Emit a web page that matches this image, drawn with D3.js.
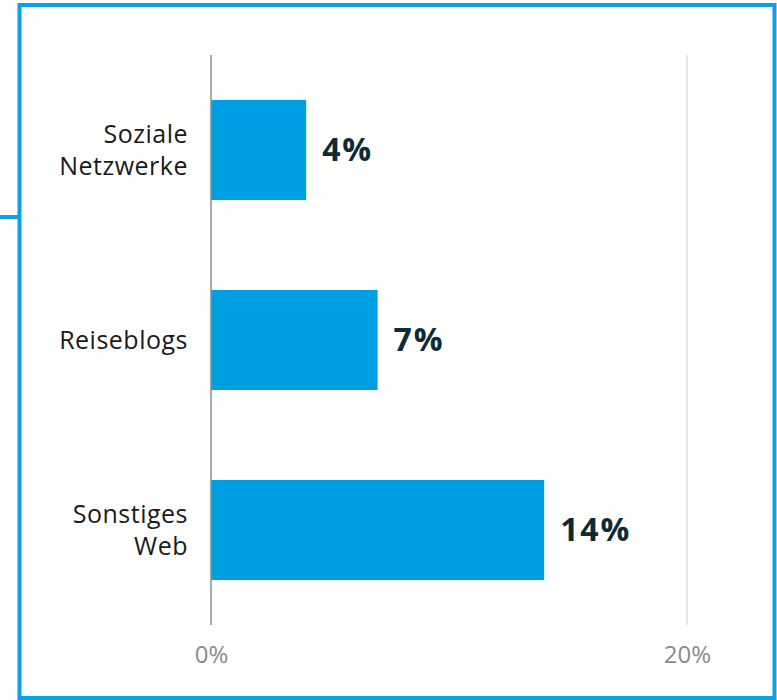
<!DOCTYPE html>
<html>
<head>
<meta charset="utf-8">
<script src="https://cdn.jsdelivr.net/npm/d3@7"></script>
<style>
  body { margin: 0; background: #fff; }
  svg { display: block; font-family: "Open Sans", "Noto Sans", sans-serif; }
</style>
</head>
<body>
<div id="chart-area"></div>
<script>
const categories = ["Soziale\nNetzwerke", "Reiseblogs", "Sonstiges\nWeb"]
const values = [4, 7, 14]
const tickValues = [0, 20]

const W = 777, H = 700
const MARGIN = { LEFT: 211, RIGHT: 90, TOP: 55, BOTTOM: 75 }
const WIDTH = W - MARGIN.LEFT - MARGIN.RIGHT
const HEIGHT = H - MARGIN.TOP - MARGIN.BOTTOM

const svg = d3.select("#chart-area").append("svg")
  .attr("width", W)
  .attr("height", H)

// frame
const frameColor = "#0aa2e6"
svg.append("rect")
  .attr("x", 19.5).attr("y", 5)
  .attr("width", 755).attr("height", 693)
  .attr("fill", "none")
  .attr("stroke", frameColor)
  .attr("stroke-width", 4)
svg.append("line")
  .attr("x1", 0).attr("x2", 19)
  .attr("y1", 217).attr("y2", 217)
  .attr("stroke", frameColor)
  .attr("stroke-width", 4)

const g = svg.append("g")
  .attr("transform", `translate(${MARGIN.LEFT}, ${MARGIN.TOP})`)

const x = d3.scaleLinear()
  .domain([0, 20])
  .range([0, 476])

const y = d3.scaleBand()
  .domain(categories)
  .range([0, 570])
  .paddingInner(0.9 / 1.9)
  .paddingOuter(0.45 / 1.9)

// gridline at 20%
g.append("line")
  .attr("x1", x(20)).attr("x2", x(20))
  .attr("y1", 0).attr("y2", HEIGHT)
  .attr("stroke", "#dcdcdc")
  .attr("stroke-width", 1.5)

// bars
g.selectAll("rect.bar")
  .data(values)
  .enter().append("rect")
  .attr("class", "bar")
  .attr("x", x(0))
  .attr("y", (d, i) => y(categories[i]))
  .attr("width", d => x(d) - x(0))
  .attr("height", y.bandwidth())
  .attr("fill", "#009fe3")

// zero line
g.append("line")
  .attr("x1", x(0)).attr("x2", x(0))
  .attr("y1", 0).attr("y2", HEIGHT)
  .attr("stroke", "#8c8c8c")
  .attr("stroke-width", 1.5)

// value labels
g.selectAll("text.value")
  .data(values)
  .enter().append("text")
  .attr("class", "value")
  .attr("x", d => x(d) + 16)
  .attr("y", (d, i) => y(categories[i]) + y.bandwidth() / 2)
  .attr("dy", "0.35em")
  .attr("font-size", "32px")
  .attr("font-weight", "bold")
  .attr("letter-spacing", "1.8px")
  .attr("fill", "#0d2b36")
  .text(d => d + "%")

// category labels
const yAxis = g.append("g")
categories.forEach(c => {
  const lines = c.split("\n")
  const t = yAxis.append("text")
    .attr("x", -23)
    .attr("y", y(c) + y.bandwidth() / 2)
    .attr("text-anchor", "end")
    .attr("font-size", "25px")
    .attr("letter-spacing", "0.5px")
    .attr("fill", "#1a1a1a")
  lines.forEach((l, i) => {
    t.append("tspan")
      .attr("x", -23)
      .attr("dy", i === 0 ? `${0.35 - (lines.length - 1) * 0.63}em` : "1.26em")
      .text(l)
  })
})

// x tick labels
const xAxisCall = d3.axisBottom(x)
  .tickValues(tickValues)
  .tickSize(0)
  .tickFormat(d => d + "%")
const xAxis = g.append("g")
  .attr("transform", `translate(0, ${HEIGHT + 18})`)
  .call(xAxisCall)
xAxis.select(".domain").remove()
xAxis.selectAll("text")
  .attr("font-size", "24px")
  .attr("font-family", "'Open Sans', 'Noto Sans', sans-serif")
  .attr("fill", "#8a8a8a")
</script>
</body>
</html>
